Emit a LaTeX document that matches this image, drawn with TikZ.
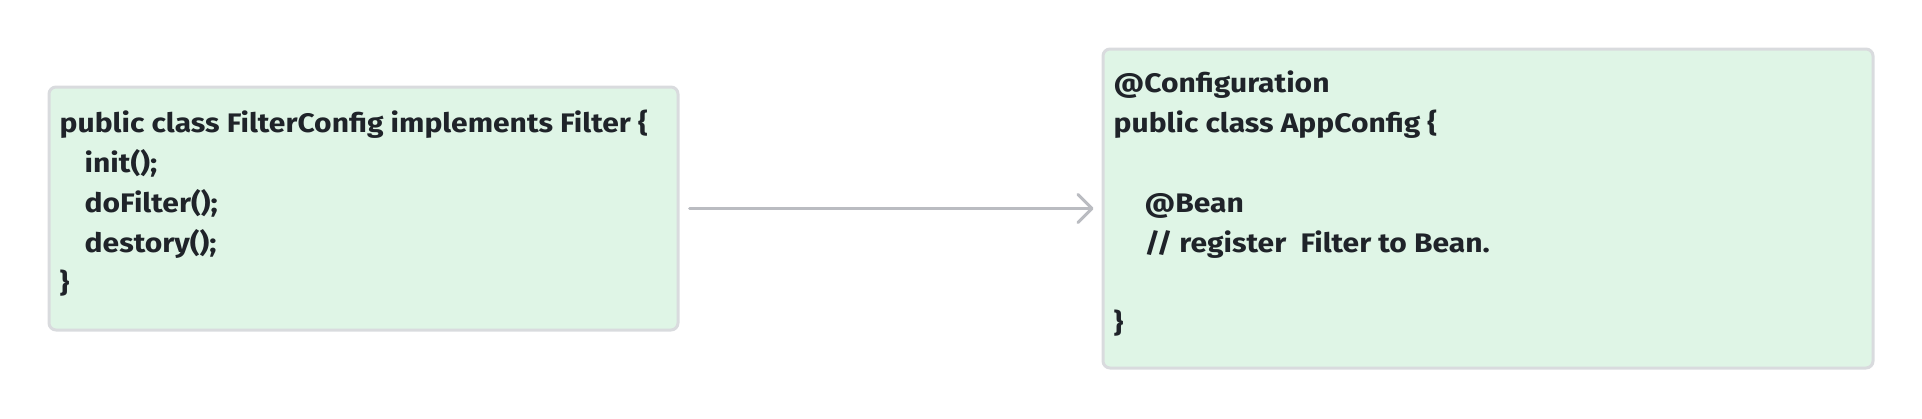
\documentclass[tikz,border=0pt]{standalone}
\usepackage{fontspec}
\setmainfont{Fira Sans}[FakeStretch=1.12]
\usetikzlibrary{arrows.meta}
\definecolor{boxfill}{HTML}{DFF5E6}
\definecolor{boxline}{HTML}{D9DBDE}
\definecolor{arrowc}{HTML}{BABCC1}
\definecolor{txt}{HTML}{1F2329}
\tikzset{
  codebox/.style={draw=boxline, line width=3pt, fill=boxfill, rounded corners=7pt,
    anchor=center, inner sep=0pt},
  codetext/.style={align=left, anchor=west, inner sep=0pt, text=txt, xshift=12pt, yshift=5pt,
    font=\fontsize{26.8}{40}\selectfont\bfseries},
  link/.style={draw=arrowc, line width=3pt, line cap=round,
    -{Straight Barb[length=14pt, width=28pt, line cap=round, line join=round]}}
}
\newcommand{\ind}{\hspace*{25pt}}
\begin{document}
\begin{tikzpicture}[x=1pt, y=-1pt]
\useasboundingbox (0,0) rectangle (1922,418);
\node[codebox, minimum width=629pt, minimum height=243pt] (L) at (363.5,208.5) {};
\node[codetext] (Ltext) at (L.west)
 {public class FilterConfig implements Filter \{\\
  \ind init();\\
  \ind doFilter();\\
  \ind destory();\\
  \}};
\node[codebox, minimum width=770pt, minimum height=319pt] (R) at (1488,208.5) {};
\node[codetext] (Rtext) at (R.west)
 {@Configuration\\
  public class AppConfig \{\\
  \mbox{}\\
  \hspace*{31pt}@Bean\\
  \hspace*{31pt}// register\ \ Filter to Bean.\\
  \mbox{}\\
  \}};
\draw[link, shorten <=10pt, shorten >=8pt] (L) -- (R);
\end{tikzpicture}
\end{document}
